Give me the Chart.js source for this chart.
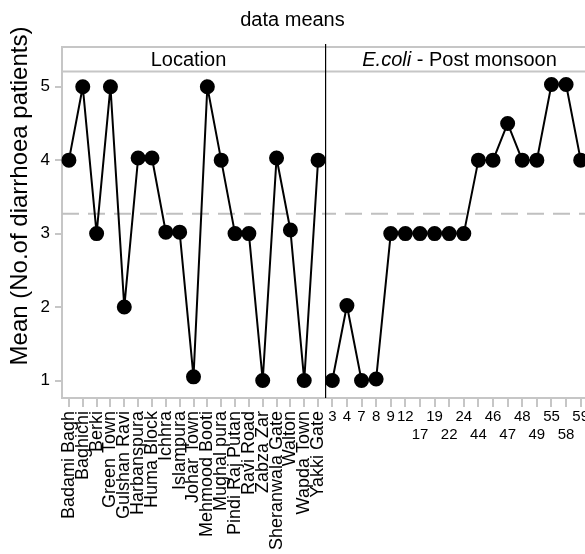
<!DOCTYPE html>
<html>
<head>
<meta charset="utf-8">
<script src="https://cdn.jsdelivr.net/npm/chart.js@4.4.0/dist/chart.umd.min.js"></script>
<style>
html, body { margin: 0; padding: 0; background: #fff; overflow: hidden; }
#wrap { position: relative; width: 585px; height: 554px; overflow: hidden; }
#left { position: absolute; left: 0; top: 0; }
#right { position: absolute; left: 325px; top: 0; }
#title { position: absolute; left: 0; width: 585px; top: 8px; text-align: center;
         font: 20px 'Liberation Sans', Arial, sans-serif; color: #000; }
</style>
</head>
<body>
<div id="wrap">
  <canvas id="left" width="325" height="554"></canvas>
  <canvas id="right" width="263" height="554"></canvas>
  <div id="title">data means</div>
</div>
<script>
// Main effects plot - data means

const locationLabels = ['Badami Bagh', 'Baghichi', 'Berki', 'Green Town', 'Gulshan Ravi', 'Harbanspura',
    'Huma Block', 'Ichhra', 'Islampura', 'Johar Town', 'Mehmood Booti', 'Mughal pura', 'Pindi Raj Putan',
    'Ravi Road', 'Zabza Zar', 'Sheranwala Gate', 'Walton', 'Wapda Town', 'Yakki Gate'];
const locationMeans = [4, 5, 3, 5, 2, 4.03, 4.03, 3.02, 3.02, 1.05, 5, 4, 3, 3, 1, 4.03, 3.05, 1, 4];

const ecoliLabels = ['3', '4', '7', '8', '9', '12', '17', '19', '22', '24', '44', '46', '47', '48', '49', '55', '58', '59'];
const ecoliMeans = [1, 2.02, 1, 1.02, 3, 3, 3, 3, 3, 3, 4, 4, 4.5, 4, 4, 5.03, 5.03, 4];

const yTicks = [1, 2, 3, 4, 5];
const grandMean = 3.27;

const FONT = "'Liberation Sans', Arial, sans-serif";
const NARROW = "'Liberation Sans Narrow', 'Liberation Sans', Arial, sans-serif";
const gray = '#c6c6c6';
const yMin = 0.762, yMax = 5.207;

// staggered labels like Minitab: two-digit neighbours go to a second row
const ecoliTickLabels = [];
let prevRow = 2;
ecoliLabels.forEach((lab, i) => {
    let row = 1;
    if (i > 0 && prevRow === 1 && ecoliLabels[i - 1].length + lab.length > 3) row = 2;
    ecoliTickLabels.push(row === 1 ? [lab] : ['', lab]);
    prevRow = row;
});

function panelPlugin(isLeft) {
    return {
        id: 'panel' + (isLeft ? 'L' : 'R'),
        beforeDatasetsDraw(chart) {
            const ctx = chart.ctx, a = chart.chartArea;
            const y = chart.scales.y.getPixelForValue(grandMean);
            ctx.save();
            ctx.strokeStyle = '#c0c0c0';
            ctx.lineWidth = 2;
            ctx.setLineDash([17, 9]);
            ctx.lineDashOffset = isLeft ? 0 : 6;
            ctx.beginPath();
            ctx.moveTo(a.left, y);
            ctx.lineTo(a.right, y);
            ctx.stroke();
            ctx.restore();
        },
        afterDraw(chart) {
            const ctx = chart.ctx, a = chart.chartArea;
            const stripTop = 47;
            ctx.save();
            ctx.strokeStyle = gray;
            ctx.lineWidth = 2;
            ctx.beginPath();
            ctx.moveTo(isLeft ? a.left - 1 : 0, stripTop);
            ctx.lineTo(chart.width, stripTop);
            ctx.moveTo(isLeft ? a.left : 0, a.top);
            ctx.lineTo(chart.width, a.top);
            if (isLeft) {
                ctx.moveTo(a.left, stripTop);
                ctx.lineTo(a.left, a.top);
            }
            ctx.stroke();

            const cx = isLeft ? (a.left + a.right) / 2 - 5 : (a.left + a.right) / 2 + 3;
            const cy = (stripTop + a.top) / 2 + 1;
            ctx.fillStyle = '#000';
            ctx.textBaseline = 'middle';
            if (isLeft) {
                ctx.font = '20px ' + FONT;
                ctx.textAlign = 'center';
                ctx.fillText('Location', cx, cy);

                // y axis title
                ctx.save();
                ctx.translate(20, 196);
                ctx.rotate(-Math.PI / 2);
                ctx.font = '24px ' + FONT;
                ctx.fillText('Mean (No.of diarrhoea patients)', 0, 0);
                ctx.restore();
            } else {
                ctx.font = 'italic 20px ' + FONT;
                const w1 = ctx.measureText('E.coli').width;
                ctx.font = '20px ' + FONT;
                const w2 = ctx.measureText(' - Post monsoon').width;
                let x = cx - (w1 + w2) / 2;
                ctx.textAlign = 'left';
                ctx.font = 'italic 20px ' + FONT;
                ctx.fillText('E.coli', x, cy);
                ctx.font = '20px ' + FONT;
                ctx.fillText(' - Post monsoon', x + w1, cy);

                // panel divider
                ctx.strokeStyle = '#000';
                ctx.lineWidth = 1.2;
                ctx.beginPath();
                ctx.moveTo(0.6, 44);
                ctx.lineTo(0.6, a.bottom);
                ctx.stroke();
            }
            ctx.restore();
        }
    };
}

function seriesDataset(values) {
    return {
        data: values,
        borderColor: '#000',
        borderWidth: 2,
        pointRadius: 6.5,
        pointBackgroundColor: '#000',
        pointBorderColor: '#000',
        tension: 0,
        clip: false
    };
}

function makeOptions(isLeft) {
    return {
        responsive: false,
        animation: false,
        layout: { autoPadding: false, padding: { top: 71.5, left: 0, right: 0, bottom: 0 } },
        plugins: { legend: { display: false }, tooltip: { enabled: false } },
        scales: {
            x: {
                type: 'category',
                offset: true,
                grid: { display: true, drawOnChartArea: false, drawTicks: true, tickLength: 9, color: gray, lineWidth: 2 },
                border: { color: gray, width: 2 },
                ticks: isLeft
                    ? { autoSkip: false, minRotation: 90, maxRotation: 90, padding: 4, color: '#000', font: { family: FONT, size: 18 } }
                    : { autoSkip: false, minRotation: 0, maxRotation: 0, padding: 1, color: '#000', font: { family: NARROW, size: 15, lineHeight: 1.2 } },
                afterFit(s) { s.height = 156; s.paddingLeft = 0; s.paddingRight = 0; }
            },
            y: {
                display: isLeft,
                min: yMin,
                max: yMax,
                afterBuildTicks(s) { s.ticks = yTicks.map(v => ({ value: v })); },
                grid: { drawOnChartArea: false, tickLength: 7, color: gray, lineWidth: 2 },
                border: { color: gray, width: 2 },
                ticks: { padding: 5, color: '#000', font: { family: FONT, size: 17 } },
                afterFit(s) { s.width = isLeft ? 62 : 0; s.paddingTop = 0; s.paddingBottom = 0; }
            }
        }
    };
}

new Chart(document.getElementById('left'), {
    type: 'line',
    data: { labels: locationLabels, datasets: [seriesDataset(locationMeans)] },
    options: makeOptions(true),
    plugins: [panelPlugin(true)]
});

new Chart(document.getElementById('right'), {
    type: 'line',
    data: { labels: ecoliTickLabels, datasets: [seriesDataset(ecoliMeans)] },
    options: makeOptions(false),
    plugins: [panelPlugin(false)]
});
</script>
</body>
</html>
